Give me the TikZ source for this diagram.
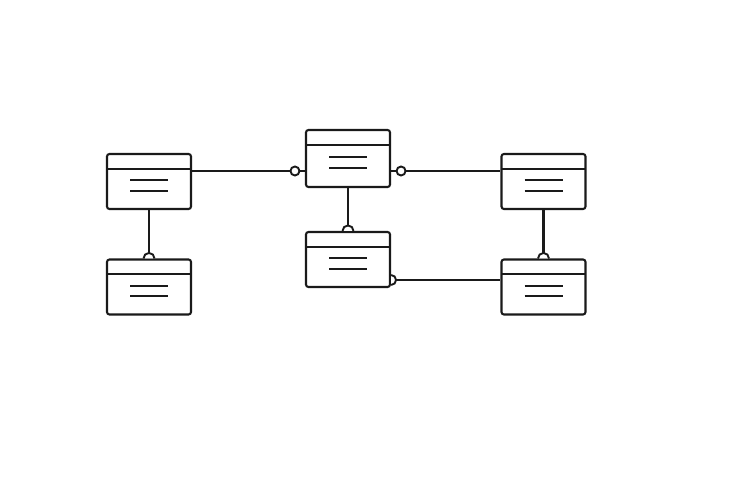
\documentclass[tikz,border=0pt]{standalone}
\usepackage{xcolor}
\definecolor{ink}{HTML}{1A1A1A}
\tikzset{
  entity/.style={draw=ink,line width=2.1pt,rounded corners=2.5pt,
    minimum width=84pt,minimum height=55pt,inner sep=0pt,
    path picture={
      \draw[ink,line width=2pt] ([yshift=-15pt]path picture bounding box.north west)
        -- ([yshift=-15pt]path picture bounding box.north east);
      \draw[ink,line width=2pt] ([xshift=-19pt,yshift=1pt]path picture bounding box.center)
        -- ([xshift=19pt,yshift=1pt]path picture bounding box.center);
      \draw[ink,line width=2pt] ([xshift=-19pt,yshift=-9.5pt]path picture bounding box.center)
        -- ([xshift=19pt,yshift=-9.5pt]path picture bounding box.center);
    }},
  link/.style={draw=ink,line width=2.1pt},
  ring/.style={draw=ink,line width=1.9pt,fill=white}
}

\begin{document}
\begin{tikzpicture}[x=1pt,y=1pt]
  \useasboundingbox (0,0) rectangle (743,495);
  % entities
  \node[entity] (ent1) at (149,313.5) {};
  \node[entity,minimum height=57pt] (ent2) at (348,336.5) {};
  \node[entity] (ent3) at (543.5,313.5) {};
  \node[entity] (ent4) at (149,208) {};
  \node[entity] (ent5) at (348,235.5) {};
  \node[entity] (ent6) at (543.5,208) {};
  \coordinate (rowa) at (0,324);
  \coordinate (rowb) at (0,215);
  % links
  \draw[link] (ent1.east |- rowa) -- (ent2.west |- rowa);
  \draw[link] (ent2.east |- rowa) -- (ent3.west |- rowa);
  \draw[link] (ent5.east |- rowb) -- (ent6.west |- rowb);
  \draw[link] (ent1.south) -- (ent4.north);
  \draw[link] (ent2.south) -- (ent5.north);
  \draw[link] (ent3.south) -- (ent6.north);
  % optional marks
  \draw[ring] ([xshift=-10pt]ent2.west |- rowa) circle (4.5);
  \draw[ring] ([xshift=10pt]ent2.east |- rowa) circle (4.5);
  \draw[ring] ([xshift=5.5pt]ent4.north) arc (0:180:5.5);
  \draw[ring] ([xshift=5.5pt]ent5.north) arc (0:180:5.5);
  \draw[ring] ([xshift=5.5pt]ent6.north) arc (0:180:5.5);
  \draw[ring] ([yshift=5pt]ent5.east |- rowb) arc (90:-90:5);
\end{tikzpicture}
\end{document}
